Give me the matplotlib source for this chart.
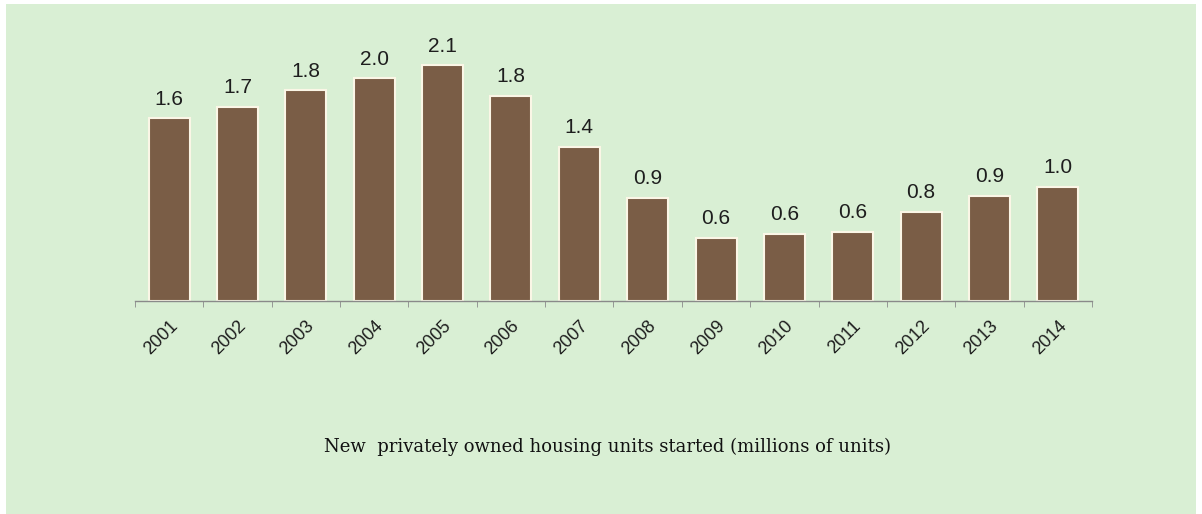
import matplotlib.pyplot as plt
from matplotlib.patches import Rectangle

# housing starts, millions of units
years = ['2001', '2002', '2003', '2004', '2005', '2006', '2007',
         '2008', '2009', '2010', '2011', '2012', '2013', '2014']
starts = [1.603, 1.705, 1.848, 1.956, 2.068, 1.801, 1.355,
          0.906, 0.554, 0.587, 0.609, 0.781, 0.925, 1.003]

bg = '#d9efd4'
bar_color = '#7a5d46'
sans = ['Liberation Sans', 'Arial', 'DejaVu Sans']

fig = plt.figure(figsize=(12.02, 5.14), dpi=100, facecolor='white')
fig.patches.append(Rectangle((6 / 1202, 0), 1190 / 1202, 510 / 514,
                             transform=fig.transFigure, facecolor=bg,
                             edgecolor='none', zorder=-10))

ax = fig.add_axes([135 / 1202, 213 / 514, 957 / 1202, 262 / 514])
ax.set_facecolor('none')
ax.set_zorder(5)

x = list(range(len(years)))
bars = ax.bar(x, starts, width=0.6, color=bar_color,
              edgecolor='#fbf6e6', linewidth=1.5)

for b, v in zip(bars, starts):
    ax.text(b.get_x() + b.get_width() / 2, v + 0.085, f'{v:.1f}',
            ha='center', va='bottom', fontsize=15,
            family=sans, color='#1e1e1e')

ax.set_xlim(-0.5, len(years) - 0.5)
ax.set_ylim(0, 2.3)

for s in ['top', 'right', 'left']:
    ax.spines[s].set_visible(False)
ax.spines['bottom'].set_color('#8a8a8a')
ax.spines['bottom'].set_linewidth(1)
ax.set_yticks([])

# minor ticks on the category boundaries, labels at centers
ax.set_xticks(x)
ax.set_xticklabels(years, rotation=45, ha='right', rotation_mode='anchor',
                   fontsize=13, family=sans, color='#1e1e1e')
ax.tick_params(axis='x', which='major', length=0, pad=12)
ax.set_xticks([i - 0.5 for i in range(len(years) + 1)], minor=True)
ax.tick_params(axis='x', which='minor', length=4, color='#8a8a8a',
               direction='out')

fig.text(607 / 1202, 1 - 447 / 514,
         'New  privately owned housing units started (millions of units)',
         ha='center', va='center', fontsize=13,
         family='DejaVu Serif', color='#111111')

fig.savefig('out.png', dpi=100, facecolor=fig.get_facecolor())
